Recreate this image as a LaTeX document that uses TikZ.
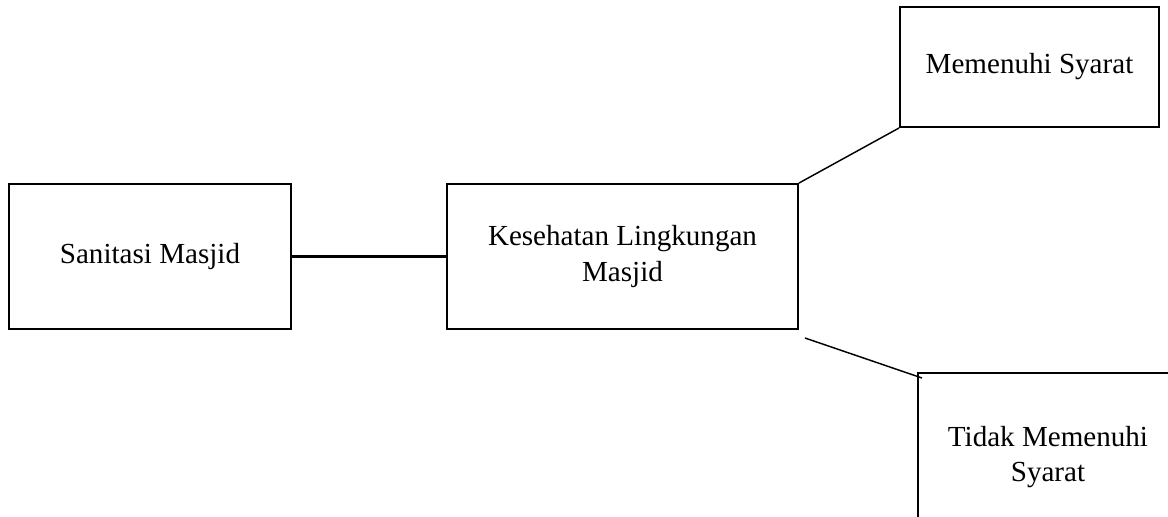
\documentclass[tikz,border=0pt]{standalone}
\usepackage{fontspec}
\setmainfont{Liberation Serif}
\begin{document}
\begin{tikzpicture}[x=0.4125pt, y=-0.4125pt,
	every node/.style={draw, line width=0.8pt, align=center, inner sep=0pt,
		font=\fontsize{12pt}{14.5pt}\selectfont}]
		% Frame
		\clip (0,0) rectangle (1168,517);
		
		% Boxes
		\node[minimum width=116.3pt, minimum height=59.8pt] (S) at (150,256.5) {Sanitasi Masjid};
		\node[minimum width=144.8pt, minimum height=59.8pt] (K) at (622.5,256.5) {Kesehatan Lingkungan\\Masjid};
		\node[minimum width=106.8pt, minimum height=49.5pt] (M) at (1029.5,67) {Memenuhi Syarat};
		\node[minimum width=107.3pt, minimum height=69.3pt] (T) at (1048,457) {Tidak Memenuhi\\Syarat};
		
		% Loose ends
		\coordinate (Kout) at (805,338);
		\coordinate (Tin) at (922,378);
		
		% Draw connectors
		\draw[line width=1.5pt] (S.east) -- (K.west);
		\draw[line width=0.6pt] (K.north east) -- (M.south west);
		\draw[line width=0.6pt] (Kout) -- (Tin);
	\end{tikzpicture}
\end{document}
